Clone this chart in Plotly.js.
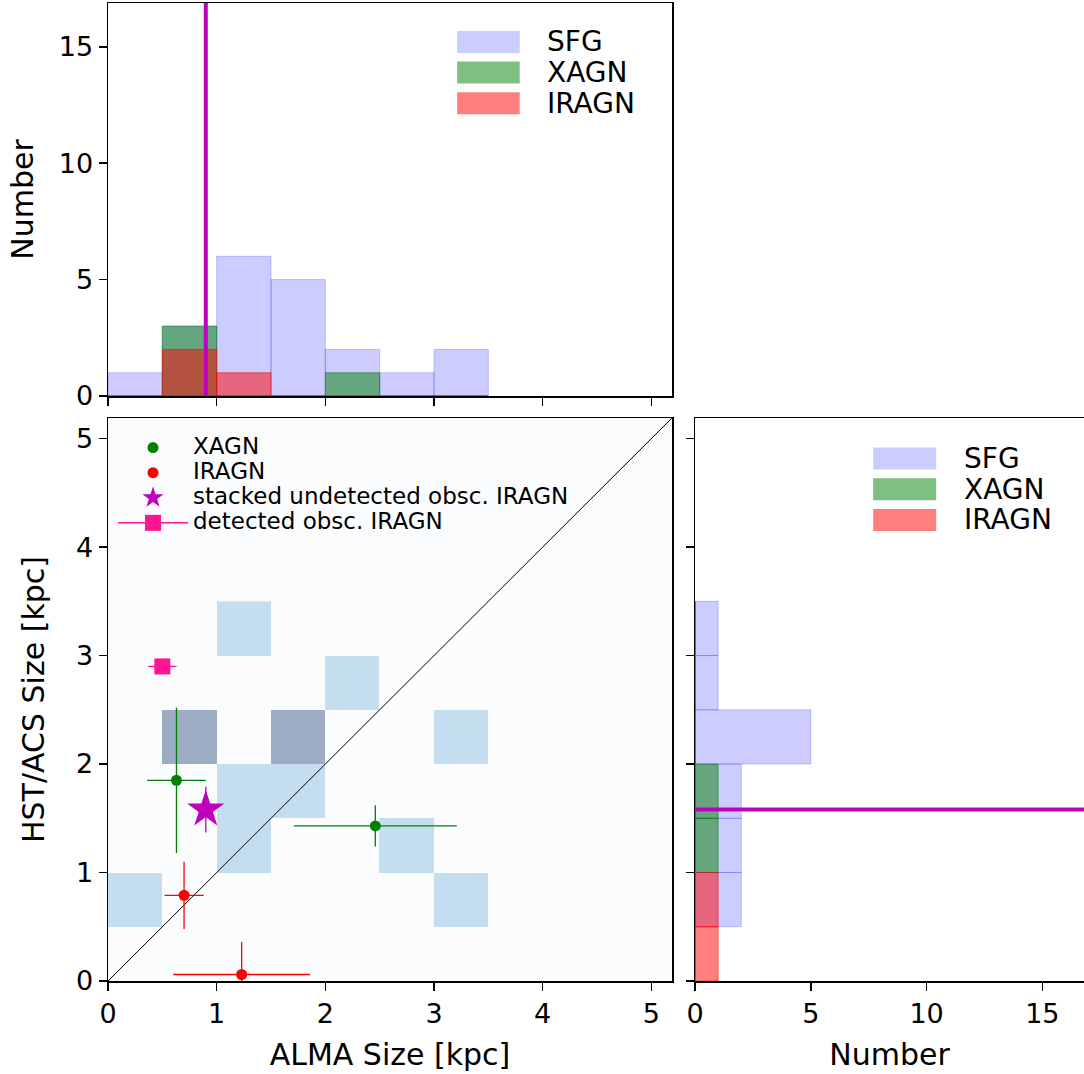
<!DOCTYPE html>
<html>
<head>
<meta charset="utf-8">
<script src="https://cdn.plot.ly/plotly-3.0.1.min.js"></script>
<style>html,body{margin:0;padding:0;background:#fff;}#plot{width:1084px;height:1074px;}</style>
</head>
<body>
<div id="plot"></div>
<script>
// ---------- data ----------
const binLeft = [0, 0.5, 1.0, 1.5, 2.0, 2.5, 3.0];   // bin left edges (kpc)
const binWidth = 0.5;

// ALMA size histograms (top panel)
const sfgAlmaCounts   = [1, 3, 6, 5, 2, 1, 2];
const xagnAlmaCounts  = [0, 3, 0, 0, 1, 0, 0];
const iragnAlmaCounts = [0, 2, 1, 0, 0, 0, 0];

// HST size histograms (right panel)
const sfgHstCounts   = [0, 2, 2, 2, 5, 1, 1];
const xagnHstCounts  = [0, 0, 1, 1, 0, 0, 0];
const iragnHstCounts = [1, 1, 0, 0, 0, 0, 0];

// 2D histogram of SFG (rows: HST bins, cols: ALMA bins)
const sfg2d = [
  [0, 0, 0, 0, 0, 0, 0],
  [1, 0, 0, 0, 0, 0, 1],
  [0, 0, 1, 0, 0, 1, 0],
  [0, 0, 1, 1, 0, 0, 0],
  [0, 2, 0, 2, 0, 0, 1],
  [0, 0, 0, 0, 1, 0, 0],
  [0, 0, 1, 0, 0, 0, 0]
];

// individual sources
const xagnAlma = [0.63, 2.46], xagnAlmaErr = [0.27, 0.75];
const xagnHst  = [1.85, 1.43], xagnHstErr  = [0.67, 0.19];
const iragnAlma = [0.70, 1.23], iragnAlmaErr = [0.18, 0.63];
const iragnHst  = [0.79, 0.06], iragnHstErr  = [0.31, 0.30];
const stackAlma = [0.90], stackHst = [1.58], stackHstErr = [0.21];
const detAlma = [0.50], detAlmaErr = [0.13], detHst = [2.90];

const oneToOne = [0, 6];
const histLabels = ['SFG', 'XAGN', 'IRAGN'];

// ---------- styling ----------
const FONT = 'DejaVu Sans';
const cSFG = 'rgba(0,0,255,0.2)', cX = 'rgba(0,128,0,0.5)', cIR = 'rgba(255,0,0,0.5)';
const cM = '#bf00bf', cPink = '#ff1493';
const bgMain = '#fafcfe';
const binCenters = binLeft.map(v => v + binWidth / 2);
const legName = s => '<span style="font-size:23px">' + s + '</span>';

function vbar(counts, color, xa, ya) {
  return {type: 'bar', x: binLeft, y: counts, width: binWidth, offset: 0,
    marker: {color: color, line: {color: color, width: 1}},
    xaxis: xa, yaxis: ya, showlegend: false, hoverinfo: 'skip'};
}
function hbar(counts, color, xa, ya) {
  return {type: 'bar', orientation: 'h', y: binLeft, x: counts, width: binWidth, offset: 0,
    marker: {color: color, line: {color: color, width: 1}},
    xaxis: xa, yaxis: ya, showlegend: false, hoverinfo: 'skip'};
}

const traces = [
  {type: 'heatmap', x: binCenters, y: binCenters, z: sfg2d, zmin: 0, zmax: 2,
   colorscale: [[0, bgMain], [0.5, '#c4deef'], [1, '#9cacc3']],
   showscale: false, xaxis: 'x', yaxis: 'y', hoverinfo: 'skip'},
  {type: 'scatter', mode: 'lines', x: oneToOne, y: oneToOne, line: {color: 'black', width: 1},
   xaxis: 'x', yaxis: 'y', showlegend: false, hoverinfo: 'skip'},
  {type: 'scatter', mode: 'markers', name: legName('XAGN'), x: xagnAlma, y: xagnHst,
   error_x: {type: 'data', array: xagnAlmaErr, color: 'green', thickness: 1.3, width: 0},
   error_y: {type: 'data', array: xagnHstErr, color: 'green', thickness: 1.3, width: 0},
   marker: {color: 'green', size: 11}, xaxis: 'x', yaxis: 'y'},
  {type: 'scatter', mode: 'markers', name: legName('IRAGN'), x: iragnAlma, y: iragnHst,
   error_x: {type: 'data', array: iragnAlmaErr, color: 'red', thickness: 1.3, width: 0},
   error_y: {type: 'data', array: iragnHstErr, color: 'red', thickness: 1.3, width: 0},
   marker: {color: 'red', size: 11}, xaxis: 'x', yaxis: 'y'},
  {type: 'scatter', mode: 'markers', name: legName('stacked undetected obsc. IRAGN'), x: stackAlma, y: stackHst,
   error_y: {type: 'data', array: stackHstErr, color: cM, thickness: 1.3, width: 0},
   marker: {color: cM, size: 28, symbol: 'star', line: {width: 0}}, xaxis: 'x', yaxis: 'y'},
  {type: 'scatter', mode: 'lines+markers', name: legName('detected obsc. IRAGN'), x: detAlma, y: detHst,
   error_x: {type: 'data', array: detAlmaErr, color: cPink, thickness: 1.3, width: 0},
   line: {color: cPink, width: 1.5},
   marker: {color: cPink, size: 16, symbol: 'square'}, xaxis: 'x', yaxis: 'y'},
  vbar(sfgAlmaCounts, cSFG, 'x2', 'y2'),
  vbar(xagnAlmaCounts, cX, 'x2', 'y2'),
  vbar(iragnAlmaCounts, cIR, 'x2', 'y2'),
  hbar(sfgHstCounts, cSFG, 'x3', 'y3'),
  hbar(xagnHstCounts, cX, 'x3', 'y3'),
  hbar(iragnHstCounts, cIR, 'x3', 'y3')
];

const W = 1084, H = 1074;
const px = v => v / W, py = v => 1 - v / H;
const tickFont = {family: FONT, size: 27, color: 'black'};
const titleFont = {family: FONT, size: 30, color: 'black'};
const axBase = {showline: true, linecolor: 'black', linewidth: 1.5, mirror: true,
  ticks: 'outside', ticklen: 8, tickwidth: 1.5, tickcolor: 'black', showgrid: false,
  zeroline: false, tickfont: tickFont, automargin: false, fixedrange: true};

const shapes = [
  {type: 'rect', xref: 'x domain', yref: 'y domain', x0: 0, x1: 1, y0: 0, y1: 1,
   fillcolor: bgMain, line: {width: 0}, layer: 'below'},
  {type: 'line', xref: 'x2', yref: 'y2 domain', x0: stackAlma[0], x1: stackAlma[0], y0: 0, y1: 1,
   line: {color: cM, width: 4}, layer: 'above'},
  {type: 'line', xref: 'x3 domain', yref: 'y3', x0: 0, x1: 1, y0: stackHst[0], y1: stackHst[0],
   line: {color: cM, width: 4}, layer: 'above'}
];
// histogram legends (patches + labels, in axis-domain coordinates)
const annotations = [];
const legColors = [cSFG, cX, cIR];
const topRows = [0.901, 0.823, 0.745], rightRows = [0.928, 0.8735, 0.819];
histLabels.forEach((lab, i) => {
  shapes.push({type: 'rect', xref: 'x2 domain', yref: 'y2 domain', x0: 0.619, x1: 0.730,
    y0: topRows[i] - 0.028, y1: topRows[i] + 0.028, fillcolor: legColors[i], line: {width: 0}});
  annotations.push({xref: 'x2 domain', yref: 'y2 domain', x: 0.775, y: topRows[i], text: lab, height: 29,
    showarrow: false, xanchor: 'left', yanchor: 'middle', font: {family: FONT, size: 28, color: 'black'}});
  shapes.push({type: 'rect', xref: 'x3 domain', yref: 'y3 domain', x0: 0.458, x1: 0.620,
    y0: rightRows[i] - 0.0195, y1: rightRows[i] + 0.0195, fillcolor: legColors[i], line: {width: 0}});
  annotations.push({xref: 'x3 domain', yref: 'y3 domain', x: 0.686, y: rightRows[i], text: lab, height: 29,
    showarrow: false, xanchor: 'left', yanchor: 'middle', font: {family: FONT, size: 28, color: 'black'}});
});

const layout = {
  width: W, height: H, margin: {l: 0, r: 0, t: 0, b: 0},
  paper_bgcolor: 'white', plot_bgcolor: 'white',
  font: {family: FONT, color: 'black'},
  barmode: 'overlay', bargap: 0,
  showlegend: true,
  legend: {x: px(113), y: py(430), xanchor: 'left', yanchor: 'top', bgcolor: 'rgba(0,0,0,0)',
    font: {family: FONT, size: 17, color: 'black'}, itemwidth: 70, tracegroupgap: 0},
  xaxis: Object.assign({}, axBase, {domain: [px(108), px(672)], range: [0, 5.19], dtick: 1, tick0: 0,
    anchor: 'y', title: {text: 'ALMA Size [kpc]', font: titleFont, standoff: 16}}),
  yaxis: Object.assign({}, axBase, {domain: [py(981), py(418)], range: [0, 5.19], dtick: 1, tick0: 0,
    anchor: 'x', title: {text: 'HST/ACS Size [kpc]', font: titleFont, standoff: 22}}),
  xaxis2: Object.assign({}, axBase, {domain: [px(108), px(672)], range: [0, 5.19], dtick: 1, tick0: 0,
    anchor: 'y2', showticklabels: false}),
  yaxis2: Object.assign({}, axBase, {domain: [py(396), py(3)], range: [0, 16.88], dtick: 5, tick0: 0,
    anchor: 'x2', title: {text: 'Number', font: titleFont, standoff: 16}}),
  xaxis3: Object.assign({}, axBase, {domain: [px(695), 1], range: [0, 16.8], dtick: 5, tick0: 0,
    anchor: 'y3', title: {text: 'Number', font: titleFont, standoff: 16}}),
  yaxis3: Object.assign({}, axBase, {domain: [py(981), py(418)], range: [0, 5.19], dtick: 1, tick0: 0,
    anchor: 'x3', showticklabels: false, mirror: false}),
  shapes: shapes,
  annotations: annotations
};

Plotly.newPlot('plot', traces, layout, {displayModeBar: false, staticPlot: true});
</script>
</body>
</html>
